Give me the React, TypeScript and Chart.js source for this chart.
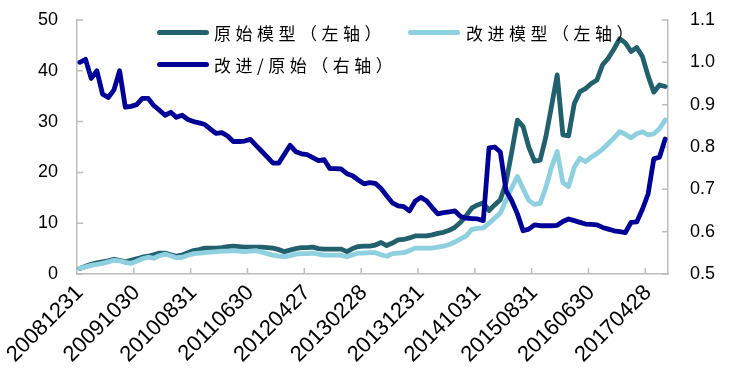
import React, { useEffect, useRef } from 'react';
import { Chart, registerables } from 'chart.js';

Chart.register(...registerables);

const tickLabels = ['20081231', '20091030', '20100831', '20110630', '20120427', '20130228', '20131231', '20141031', '20150831', '20160630', '20170428'];

const originalModel = [
  1.1, 1.5, 1.9, 2.2, 2.4, 2.6, 2.9, 2.7, 2.4, 2.7,
  3.0, 3.3, 3.5, 3.8, 4.1, 4.1, 3.8, 3.5, 3.7, 4.2,
  4.6, 4.8, 5.1, 5.1, 5.1, 5.2, 5.4, 5.5, 5.4, 5.3,
  5.3, 5.3, 5.3, 5.2, 5.1, 4.8, 4.4, 4.7, 5.0, 5.2,
  5.2, 5.3, 5.0, 4.9, 4.9, 4.9, 4.9, 4.4, 5.0, 5.4,
  5.5, 5.5, 5.7, 6.2, 5.6, 6.1, 6.7, 6.8, 7.1, 7.5,
  7.5, 7.5, 7.7, 8.0, 8.2, 8.6, 9.2, 10.2, 11.5, 13.0,
  13.6, 14.0, 12.5, 13.6, 14.6, 18.0, 24.0, 30.3, 29.0, 25.0,
  22.2, 22.4, 27.0, 33.0, 39.2, 27.4, 27.2, 33.5, 35.9, 36.5,
  37.5, 38.2, 41.2, 42.5, 44.3, 46.3, 45.5, 43.8, 44.6, 42.8,
  39.0, 35.8, 37.2, 36.9,
];

const improvedModel = [
  1.1, 1.4, 1.7, 1.9, 2.1, 2.4, 2.7, 2.6, 2.3, 2.1,
  2.5, 3.0, 3.3, 3.1, 3.6, 3.9, 3.6, 3.2, 3.3, 3.7,
  4.0, 4.1, 4.2, 4.3, 4.4, 4.5, 4.5, 4.6, 4.5, 4.4,
  4.5, 4.6, 4.3, 4.0, 3.7, 3.5, 3.4, 3.6, 3.9, 4.0,
  4.0, 4.1, 3.9, 3.7, 3.7, 3.7, 3.7, 3.4, 3.8, 4.1,
  4.1, 4.2, 4.2, 3.8, 3.5, 4.0, 4.1, 4.2, 4.6, 5.1,
  5.1, 5.1, 5.1, 5.3, 5.5, 5.8, 6.3, 6.9, 7.5, 8.8,
  9.0, 9.1, 10.0, 11.0, 12.0, 14.5, 17.0, 19.2, 16.8, 14.5,
  13.7, 13.9, 17.0, 21.0, 24.1, 18.0, 17.2, 21.0, 22.8, 22.1,
  23.0, 23.7, 24.6, 25.7, 26.8, 28.0, 27.5, 26.8, 27.6, 28.0,
  27.4, 27.6, 28.6, 30.3,
];

const ratio = [
  1.000, 1.007, 0.962, 0.980, 0.925, 0.917, 0.935, 0.980, 0.894, 0.896,
  0.900, 0.915, 0.915, 0.898, 0.887, 0.875, 0.882, 0.870, 0.875, 0.865,
  0.860, 0.857, 0.853, 0.842, 0.832, 0.834, 0.826, 0.813, 0.813, 0.814,
  0.818, 0.804, 0.790, 0.776, 0.762, 0.762, 0.783, 0.804, 0.789, 0.784,
  0.782, 0.775, 0.768, 0.770, 0.749, 0.749, 0.748, 0.737, 0.732, 0.722,
  0.713, 0.716, 0.714, 0.702, 0.685, 0.668, 0.661, 0.659, 0.649, 0.672,
  0.681, 0.673, 0.657, 0.642, 0.645, 0.647, 0.649, 0.636, 0.632, 0.631,
  0.630, 0.626, 0.798, 0.800, 0.788, 0.697, 0.673, 0.642, 0.602, 0.606,
  0.616, 0.614, 0.614, 0.614, 0.615, 0.624, 0.630, 0.626, 0.622, 0.618,
  0.617, 0.616, 0.610, 0.606, 0.602, 0.600, 0.598, 0.622, 0.623, 0.653,
  0.689, 0.772, 0.776, 0.819,
];

const seriesNames = ['原始模型（左轴）', '改进模型（左轴）', '改进/原始（右轴）'];
const leftTicks = { min: 0, max: 50, step: 10 };
const rightTicks = { min: 0.5, max: 1.1, step: 0.1 };
const labelEvery = 10;

const categories = originalModel.map((_, i) => (i % labelEvery === 0 ? tickLabels[i / labelEvery] ?? '' : ''));

const TEAL = '#23606e';
const LIGHT = '#8ecfe0';
const NAVY = '#000096';
const AXIS = '#bdbdbd';
const TICK_FONT = { family: '"Liberation Sans", Arial, sans-serif', size: 18 };
const X_FONT = { family: '"Liberation Sans", Arial, sans-serif', size: 22 };

const insideTicks = {
  id: 'insideTicks',
  beforeDatasetsDraw(chart: any) {
    const { ctx } = chart;
    const xs = chart.scales.x;
    const yl = chart.scales.y;
    const yr = chart.scales.y1;
    const len = 6;
    ctx.save();
    ctx.strokeStyle = AXIS;
    ctx.lineWidth = 1.5;
    ctx.beginPath();
    for (let i = labelEvery; i < categories.length; i += labelEvery) {
      const x = (xs.getPixelForValue(i - 1) + xs.getPixelForValue(i)) / 2;
      ctx.moveTo(x, xs.top);
      ctx.lineTo(x, xs.top - len);
    }
    yl.ticks.forEach((t: any) => {
      const y = yl.getPixelForValue(t.value);
      ctx.moveTo(yl.right, y);
      ctx.lineTo(yl.right + len, y);
    });
    yr.ticks.forEach((t: any) => {
      const y = yr.getPixelForValue(t.value);
      ctx.moveTo(yr.left, y);
      ctx.lineTo(yr.left - len, y);
    });
    ctx.stroke();
    ctx.restore();
  },
};

const lineStyle = {
  borderWidth: 4.8,
  pointRadius: 0,
  pointHoverRadius: 0,
  tension: 0,
  borderJoinStyle: 'round' as const,
  borderCapStyle: 'round' as const,
  fill: false,
};

export default function App() {
  const canvasRef = useRef<HTMLCanvasElement | null>(null);

  useEffect(() => {
    const canvas = canvasRef.current;
    if (!canvas) return;
    const chart = new Chart(canvas, {
      type: 'line',
      data: {
        labels: categories,
        datasets: [
          { ...lineStyle, label: seriesNames[0], data: originalModel, borderColor: TEAL, backgroundColor: TEAL, yAxisID: 'y', order: 2 },
          { ...lineStyle, label: seriesNames[1], data: improvedModel, borderColor: LIGHT, backgroundColor: LIGHT, yAxisID: 'y', order: 1 },
          { ...lineStyle, label: seriesNames[2], data: ratio, borderColor: NAVY, backgroundColor: NAVY, yAxisID: 'y1', order: 0 },
        ],
      },
      options: {
        responsive: false,
        animation: false,
        maintainAspectRatio: false,
        layout: { padding: { top: 20, left: 0, right: 0, bottom: 0 } },
        plugins: { legend: { display: false }, tooltip: { enabled: false } },
        scales: {
          x: {
            type: 'category',
            offset: true,
            grid: { display: false, drawTicks: false },
            border: { display: true, color: AXIS, width: 1.5 },
            ticks: {
              autoSkip: false,
              maxRotation: 45,
              minRotation: 45,
              padding: 6,
              color: '#000',
              font: X_FONT,
            },
            afterFit(scale: any) {
              scale.height = 107;
              scale.paddingLeft = 0;
              scale.paddingRight = 0;
            },
          },
          y: {
            position: 'left',
            min: leftTicks.min,
            max: leftTicks.max,
            grid: { display: false, drawTicks: false },
            border: { display: true, color: AXIS, width: 1.5 },
            ticks: { stepSize: leftTicks.step, padding: 19, color: '#000', font: TICK_FONT },
            afterFit(scale: any) {
              scale.width = 77;
              scale.paddingTop = 0;
              scale.paddingBottom = 0;
            },
          },
          y1: {
            position: 'right',
            min: rightTicks.min,
            max: rightTicks.max,
            grid: { display: false, drawTicks: false },
            border: { display: true, color: AXIS, width: 1.5 },
            ticks: {
              stepSize: rightTicks.step,
              padding: 22,
              color: '#000',
              font: TICK_FONT,
              callback: (v: any) => Number(v).toFixed(1),
            },
            afterFit(scale: any) {
              scale.width = 61;
              scale.paddingTop = 0;
              scale.paddingBottom = 0;
            },
          },
        },
      },
      plugins: [insideTicks],
    });
    return () => chart.destroy();
  }, []);

  const legendItems = [
    { name: seriesNames[0], color: TEAL, lineLeft: 157, textLeft: 214, top: 32.5 },
    { name: seriesNames[1], color: LIGHT, lineLeft: 408, textLeft: 466, top: 32.5 },
    { name: seriesNames[2], color: NAVY, lineLeft: 157, textLeft: 214, top: 64.5 },
  ];

  return (
    <div style={{ position: 'fixed', left: 0, top: 0, width: 729, height: 381, background: '#fff', overflow: 'hidden' }}>
      <canvas ref={canvasRef} width={729} height={381} style={{ display: 'block', width: 729, height: 381 }} />
      {legendItems.map((it) => (
        <React.Fragment key={it.name}>
          <div style={{ position: 'absolute', left: it.lineLeft, top: it.top - 2.5, width: 52, height: 5, borderRadius: 3, background: it.color }} />
          <div
            style={{
              position: 'absolute',
              left: it.textLeft,
              top: it.top - 13,
              height: 26,
              lineHeight: '26px',
              fontFamily: '"Noto Sans CJK SC", sans-serif',
              fontSize: 17,
              letterSpacing: '4.5px',
              color: '#000',
              whiteSpace: 'nowrap',
              ...({ textSpacingTrim: 'space-all' } as any),
            }}
          >
            {it.name}
          </div>
        </React.Fragment>
      ))}
    </div>
  );
}
